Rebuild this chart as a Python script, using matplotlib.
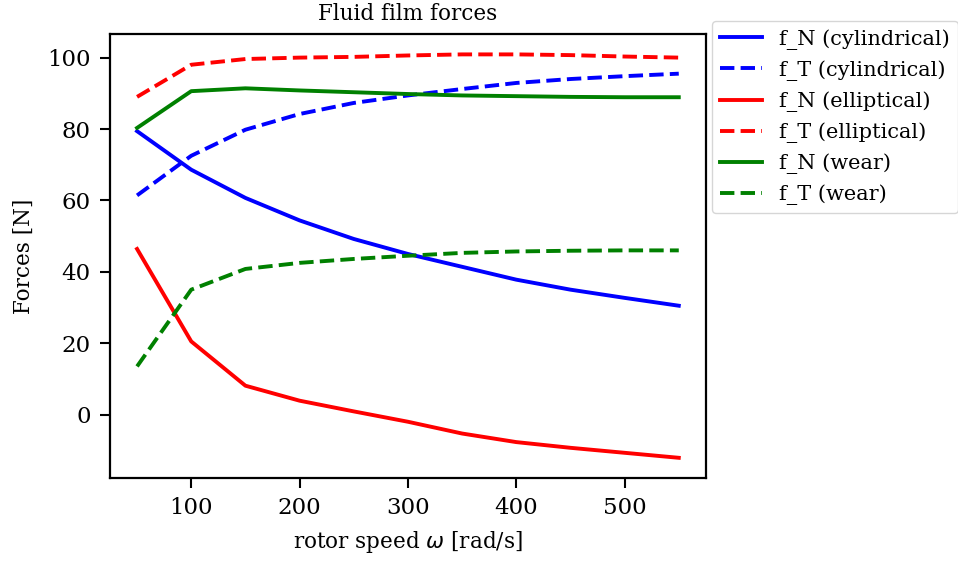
import numpy as np
import matplotlib
matplotlib.use("Agg")
import matplotlib.pyplot as plt

plt.rcParams['font.family'] = 'DejaVu Serif'

omega = [50, 100, 150, 200, 250, 300, 350, 400, 450, 500, 550]

fN_cyl = [79.4, 68.6, 60.7, 54.4, 49.2, 45.0, 41.4, 37.8, 35.0, 32.7, 30.5]
fT_cyl = [61.4, 72.5, 79.8, 84.2, 87.3, 89.4, 91.2, 92.9, 94.0, 94.8, 95.5]
fN_ell = [46.4, 20.5, 8.1, 3.9, 0.9, -2.0, -5.3, -7.7, -9.3, -10.7, -12.1]
fT_ell = [89.0, 98.0, 99.6, 100.0, 100.2, 100.6, 100.9, 100.9, 100.7, 100.3, 100.0]
fN_wear = [80.3, 90.6, 91.4, 90.8, 90.3, 89.8, 89.4, 89.2, 89.0, 88.9, 88.9]
fT_wear = [13.5, 35.0, 40.8, 42.5, 43.6, 44.5, 45.3, 45.7, 45.9, 46.0, 46.0]

fig = plt.figure(figsize=(9.58, 5.61), dpi=100)
ax = fig.add_axes([0.1148, 0.148, 0.622, 0.791])

lw = 2.8
ax.plot(omega, fN_cyl, 'b-', lw=lw, label='f_N (cylindrical)')
ax.plot(omega, fT_cyl, 'b--', lw=lw, label='f_T (cylindrical)')
ax.plot(omega, fN_ell, 'r-', lw=lw, label='f_N (elliptical)')
ax.plot(omega, fT_ell, 'r--', lw=lw, label='f_T (elliptical)')
ax.plot(omega, fN_wear, 'g-', lw=lw, label='f_N (wear)')
ax.plot(omega, fT_wear, 'g--', lw=lw, label='f_T (wear)')

ax.set_title('Fluid film forces', fontsize=15.5, pad=10)
ax.set_xlabel(r'rotor speed $\omega$ [rad/s]', fontsize=15.5, labelpad=7)
ax.set_ylabel('Forces [N]', fontsize=15.5, labelpad=9)
ax.tick_params(labelsize=16.5, length=7, width=1.5, pad=7)
for s in ax.spines.values():
    s.set_linewidth(1.6)

ax.legend(loc='upper left', bbox_to_anchor=(0.993, 1.054), fontsize=15)

fig.savefig('out.png', dpi=100)
